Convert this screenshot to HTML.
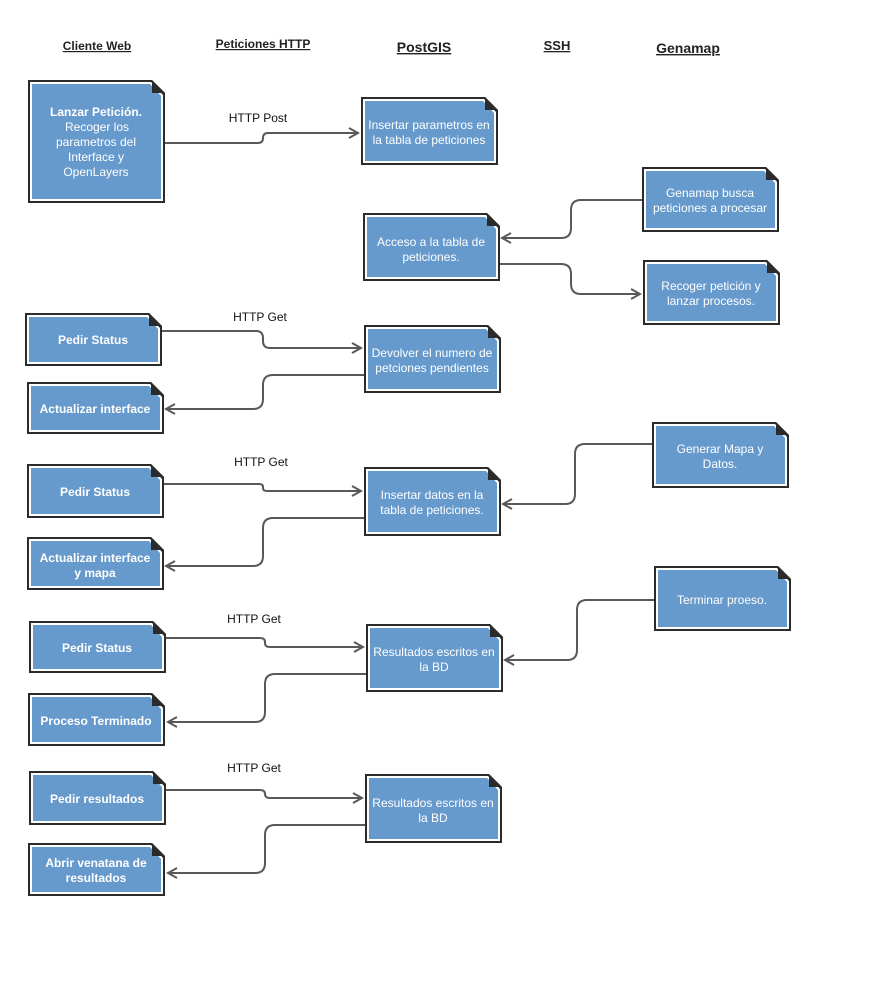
<!DOCTYPE html>
<html><head><meta charset="utf-8"><style>
html,body{margin:0;padding:0;background:#fff;}
svg{display:block;font-family:"Liberation Sans",Arial,sans-serif;}
.t{fill:#fff;font-size:12px;text-anchor:middle;}
.b{font-weight:bold;}
.h{font-weight:bold;text-decoration:underline;fill:#222;text-anchor:middle;}
.c{fill:none;stroke:#595959;stroke-width:2;}
.l{font-size:12px;fill:#111;text-anchor:middle;}
.o{fill:#2b2b2b;}.w{fill:#fff;}.u{fill:#6699cc;}
</style></head><body>
<svg width="891" height="997" viewBox="0 0 891 997" xmlns="http://www.w3.org/2000/svg">
<defs>
<marker id="a" markerWidth="12" markerHeight="12" refX="10" refY="6" orient="auto" markerUnits="userSpaceOnUse">
<path d="M1,1 L10,6 L1,11" fill="none" stroke="#595959" stroke-width="2"/>
</marker>
</defs>
<text class="h" x="97" y="50" font-size="12">Cliente Web</text>
<text class="h" x="263" y="48" font-size="12">Peticiones HTTP</text>
<text class="h" x="424" y="52" font-size="14">PostGIS</text>
<text class="h" x="557" y="50" font-size="13">SSH</text>
<text class="h" x="688" y="53" font-size="14">Genamap</text>

<!-- connectors -->
<path class="c" marker-end="url(#a)" d="M165,143 H258 Q263,143 263,138 V138 Q263,133 268,133 H358"/>
<text class="l" x="258" y="122">HTTP Post</text>
<path class="c" marker-end="url(#a)" d="M642,200 H581 Q571,200 571,210 V228 Q571,238 561,238 H502"/>
<path class="c" marker-end="url(#a)" d="M500,264 H561 Q571,264 571,274 V284 Q571,294 581,294 H640"/>
<path class="c" marker-end="url(#a)" d="M162,331 H256 Q263,331 263,338 V341 Q263,348 270,348 H361"/>
<text class="l" x="260" y="321">HTTP Get</text>
<path class="c" marker-end="url(#a)" d="M364,375 H273 Q263,375 263,385 V399 Q263,409 253,409 H166"/>
<path class="c" marker-end="url(#a)" d="M164,484 H259 Q263,484 263,487 V488 Q263,491 267,491 H361"/>
<text class="l" x="261" y="466">HTTP Get</text>
<path class="c" marker-end="url(#a)" d="M652,444 H585 Q575,444 575,454 V494 Q575,504 565,504 H503"/>
<path class="c" marker-end="url(#a)" d="M364,518 H273 Q263,518 263,528 V556 Q263,566 253,566 H166"/>
<path class="c" marker-end="url(#a)" d="M166,638 H260 Q265,638 265,642 V643 Q265,647 270,647 H363"/>
<text class="l" x="254" y="623">HTTP Get</text>
<path class="c" marker-end="url(#a)" d="M654,600 H587 Q577,600 577,610 V650 Q577,660 567,660 H505"/>
<path class="c" marker-end="url(#a)" d="M366,674 H275 Q265,674 265,684 V712 Q265,722 255,722 H168"/>
<path class="c" marker-end="url(#a)" d="M166,790 H260 Q265,790 265,794 V794 Q265,798 270,798 H362"/>
<text class="l" x="254" y="772">HTTP Get</text>
<path class="c" marker-end="url(#a)" d="M365,825 H275 Q265,825 265,835 V863 Q265,873 255,873 H168"/>

<!-- N1 28,80-165,203 -->
<path class="o" d="M28,80 H152 L165,93 V203 H28 Z"/><path class="w" d="M30,82 H151 L163,95 V201 H30 Z"/><path class="u" d="M32,84 H150 L161,96 V199 H32 Z"/><path class="o" d="M152,80 L165,93 H152 Z"/>
<text class="t" x="96" y="116"><tspan class="b" x="96">Lanzar Petición.</tspan><tspan x="97" dy="15">Recoger los</tspan><tspan x="96" dy="15">parametros del</tspan><tspan x="96" dy="15">Interface y</tspan><tspan x="96" dy="15">OpenLayers</tspan></text>

<!-- N2 361,97-498,165 -->
<path class="o" d="M361,97 H485 L498,110 V165 H361 Z"/><path class="w" d="M363,99 H484 L496,112 V163 H363 Z"/><path class="u" d="M365,101 H483 L494,113 V161 H365 Z"/><path class="o" d="M485,97 L498,110 H485 Z"/>
<text class="t" x="429" y="129"><tspan x="429">Insertar parametros en</tspan><tspan x="429" dy="15">la tabla de peticiones</tspan></text>

<!-- N3 642,167-779,232 -->
<path class="o" d="M642,167 H766 L779,180 V232 H642 Z"/><path class="w" d="M644,169 H765 L777,182 V230 H644 Z"/><path class="u" d="M646,171 H764 L775,183 V228 H646 Z"/><path class="o" d="M766,167 L779,180 H766 Z"/>
<text class="t" x="710" y="197"><tspan x="710">Genamap busca</tspan><tspan x="710" dy="15">peticiones a procesar</tspan></text>

<!-- N4 363,213-500,281 -->
<path class="o" d="M363,213 H487 L500,226 V281 H363 Z"/><path class="w" d="M365,215 H486 L498,228 V279 H365 Z"/><path class="u" d="M367,217 H485 L496,229 V277 H367 Z"/><path class="o" d="M487,213 L500,226 H487 Z"/>
<text class="t" x="431" y="246"><tspan x="431">Acceso a la tabla de</tspan><tspan x="431" dy="15">peticiones.</tspan></text>

<!-- N5 643,260-780,325 -->
<path class="o" d="M643,260 H767 L780,273 V325 H643 Z"/><path class="w" d="M645,262 H766 L778,275 V323 H645 Z"/><path class="u" d="M647,264 H765 L776,276 V321 H647 Z"/><path class="o" d="M767,260 L780,273 H767 Z"/>
<text class="t" x="711" y="290"><tspan x="711">Recoger petición y</tspan><tspan x="711" dy="15">lanzar procesos.</tspan></text>

<!-- N6 25,313-162,366 -->
<path class="o" d="M25,313 H149 L162,326 V366 H25 Z"/><path class="w" d="M27,315 H148 L160,328 V364 H27 Z"/><path class="u" d="M29,317 H147 L158,329 V362 H29 Z"/><path class="o" d="M149,313 L162,326 H149 Z"/>
<text class="t b" x="93" y="344">Pedir Status</text>

<!-- N7 364,325-501,393 -->
<path class="o" d="M364,325 H488 L501,338 V393 H364 Z"/><path class="w" d="M366,327 H487 L499,340 V391 H366 Z"/><path class="u" d="M368,329 H486 L497,341 V389 H368 Z"/><path class="o" d="M488,325 L501,338 H488 Z"/>
<text class="t" x="432" y="357"><tspan x="432">Devolver el numero de</tspan><tspan x="432" dy="15">petciones pendientes</tspan></text>

<!-- N8 27,382-164,434 -->
<path class="o" d="M27,382 H151 L164,395 V434 H27 Z"/><path class="w" d="M29,384 H150 L162,397 V432 H29 Z"/><path class="u" d="M31,386 H149 L160,398 V430 H31 Z"/><path class="o" d="M151,382 L164,395 H151 Z"/>
<text class="t b" x="95" y="413">Actualizar interface</text>

<!-- N9 27,464-164,518 -->
<path class="o" d="M27,464 H151 L164,477 V518 H27 Z"/><path class="w" d="M29,466 H150 L162,479 V516 H29 Z"/><path class="u" d="M31,468 H149 L160,480 V514 H31 Z"/><path class="o" d="M151,464 L164,477 H151 Z"/>
<text class="t b" x="95" y="496">Pedir Status</text>

<!-- N10 364,467-501,536 -->
<path class="o" d="M364,467 H488 L501,480 V536 H364 Z"/><path class="w" d="M366,469 H487 L499,482 V534 H366 Z"/><path class="u" d="M368,471 H486 L497,483 V532 H368 Z"/><path class="o" d="M488,467 L501,480 H488 Z"/>
<text class="t" x="432" y="499"><tspan x="432">Insertar datos en la</tspan><tspan x="432" dy="15">tabla de peticiones.</tspan></text>

<!-- N11 652,422-789,488 -->
<path class="o" d="M652,422 H776 L789,435 V488 H652 Z"/><path class="w" d="M654,424 H775 L787,437 V486 H654 Z"/><path class="u" d="M656,426 H774 L785,438 V484 H656 Z"/><path class="o" d="M776,422 L789,435 H776 Z"/>
<text class="t" x="720" y="453"><tspan x="720">Generar Mapa y</tspan><tspan x="720" dy="15">Datos.</tspan></text>

<!-- N12 27,537-164,590 -->
<path class="o" d="M27,537 H151 L164,550 V590 H27 Z"/><path class="w" d="M29,539 H150 L162,552 V588 H29 Z"/><path class="u" d="M31,541 H149 L160,553 V586 H31 Z"/><path class="o" d="M151,537 L164,550 H151 Z"/>
<text class="t b" x="95" y="562"><tspan x="95">Actualizar interface</tspan><tspan x="95" dy="15">y mapa</tspan></text>

<!-- N13 29,621-166,673 -->
<path class="o" d="M29,621 H153 L166,634 V673 H29 Z"/><path class="w" d="M31,623 H152 L164,636 V671 H31 Z"/><path class="u" d="M33,625 H151 L162,637 V669 H33 Z"/><path class="o" d="M153,621 L166,634 H153 Z"/>
<text class="t b" x="97" y="652">Pedir Status</text>

<!-- N14 366,624-503,692 -->
<path class="o" d="M366,624 H490 L503,637 V692 H366 Z"/><path class="w" d="M368,626 H489 L501,639 V690 H368 Z"/><path class="u" d="M370,628 H488 L499,640 V688 H370 Z"/><path class="o" d="M490,624 L503,637 H490 Z"/>
<text class="t" x="434" y="656"><tspan x="434">Resultados escritos en</tspan><tspan x="434" dy="15">la BD</tspan></text>

<!-- N15 654,566-791,631 -->
<path class="o" d="M654,566 H778 L791,579 V631 H654 Z"/><path class="w" d="M656,568 H777 L789,581 V629 H656 Z"/><path class="u" d="M658,570 H776 L787,582 V627 H658 Z"/><path class="o" d="M778,566 L791,579 H778 Z"/>
<text class="t" x="722" y="604">Terminar proeso.</text>

<!-- N16 28,693-165,746 -->
<path class="o" d="M28,693 H152 L165,706 V746 H28 Z"/><path class="w" d="M30,695 H151 L163,708 V744 H30 Z"/><path class="u" d="M32,697 H150 L161,709 V742 H32 Z"/><path class="o" d="M152,693 L165,706 H152 Z"/>
<text class="t b" x="96" y="725">Proceso Terminado</text>

<!-- N17 29,771-166,825 -->
<path class="o" d="M29,771 H153 L166,784 V825 H29 Z"/><path class="w" d="M31,773 H152 L164,786 V823 H31 Z"/><path class="u" d="M33,775 H151 L162,787 V821 H33 Z"/><path class="o" d="M153,771 L166,784 H153 Z"/>
<text class="t b" x="97" y="803">Pedir resultados</text>

<!-- N18 365,774-502,843 -->
<path class="o" d="M365,774 H489 L502,787 V843 H365 Z"/><path class="w" d="M367,776 H488 L500,789 V841 H367 Z"/><path class="u" d="M369,778 H487 L498,790 V839 H369 Z"/><path class="o" d="M489,774 L502,787 H489 Z"/>
<text class="t" x="433" y="807"><tspan x="433">Resultados escritos en</tspan><tspan x="433" dy="15">la BD</tspan></text>

<!-- N19 28,843-165,896 -->
<path class="o" d="M28,843 H152 L165,856 V896 H28 Z"/><path class="w" d="M30,845 H151 L163,858 V894 H30 Z"/><path class="u" d="M32,847 H150 L161,859 V892 H32 Z"/><path class="o" d="M152,843 L165,856 H152 Z"/>
<text class="t b" x="96" y="867"><tspan x="96">Abrir venatana de</tspan><tspan x="96" dy="15">resultados</tspan></text>
</svg>
</body></html>
